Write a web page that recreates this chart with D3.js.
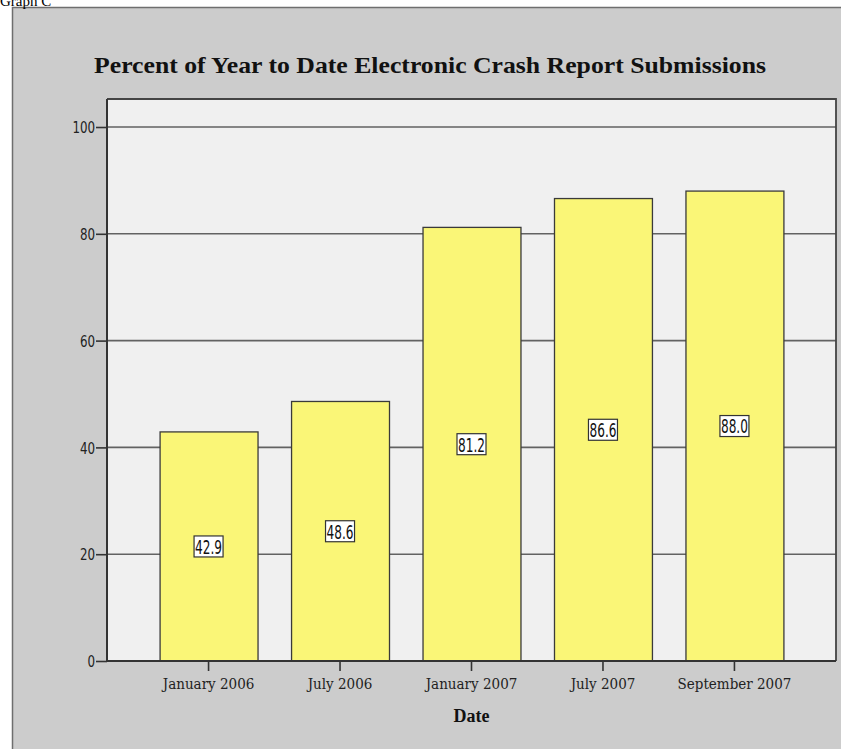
<!DOCTYPE html>
<html>
<head>
<meta charset="utf-8">
<script src="https://cdn.jsdelivr.net/npm/d3@7"></script>
<style>
  html, body { margin: 0; padding: 0; background: #ffffff; }
  svg { display: block; }
</style>
</head>
<body>
<script>
// Chart data
const categories = ["January 2006", "July 2006", "January 2007", "July 2007", "September 2007"];
const percentValues = [42.9, 48.6, 81.2, 86.6, 88.0];
const yTickValues = [0, 20, 40, 60, 80, 100];
const chartTitle = "Percent of Year to Date Electronic Crash Report Submissions";
const xAxisTitle = "Date";
const captionText = "Graph C";

const W = 841, H = 749;
const plot = { left: 107, top: 99, right: 836, bottom: 661 };
const condensedSerif = "'DejaVu Serif Condensed', 'DejaVu Serif', serif";

// Squeeze a text horizontally to a given width
function squeezeTo(sel, width) {
  sel.attr("textLength", width).attr("lengthAdjust", "spacingAndGlyphs");
}
// Squeeze a text horizontally to a fraction of its natural width
function squeeze(sel, factor) {
  sel.each(function () {
    const w = this.getComputedTextLength();
    d3.select(this)
      .attr("textLength", w * factor)
      .attr("lengthAdjust", "spacingAndGlyphs");
  });
}

const svg = d3.select("body").append("svg")
  .attr("width", W).attr("height", H);

// Outer chart panel
svg.append("rect")
  .attr("x", 12.5).attr("y", 7.5)
  .attr("width", W).attr("height", H)
  .attr("fill", "#cccccc")
  .attr("stroke", "#6e6e6e").attr("stroke-width", 1.5);

// Caption above the panel
svg.append("text")
  .attr("x", 0).attr("y", 6)
  .attr("font-family", "Liberation Serif, serif")
  .attr("font-size", 15)
  .attr("fill", "#000")
  .text(captionText);

// Title
svg.append("text")
  .attr("x", 430).attr("y", 73)
  .attr("text-anchor", "middle")
  .attr("font-family", "Liberation Serif, serif")
  .attr("font-weight", "bold")
  .attr("font-size", 23)
  .attr("fill", "#111")
  .text(chartTitle)
  .call(squeezeTo, 672);

// Scales
const x = d3.scaleBand()
  .domain(categories)
  .range([plot.left, plot.right])
  .paddingInner(0.255)
  .paddingOuter(0.40);

const y = d3.scaleLinear()
  .domain([0, 100])
  .range([plot.bottom, 127]);

// Plot background
svg.append("rect")
  .attr("x", plot.left).attr("y", plot.top)
  .attr("width", plot.right - plot.left)
  .attr("height", plot.bottom - plot.top)
  .attr("fill", "#f0f0f0");

// Horizontal gridlines
svg.append("g")
  .selectAll("line")
  .data(yTickValues.filter(d => d > 0))
  .join("line")
  .attr("x1", plot.left).attr("x2", plot.right)
  .attr("y1", d => y(d)).attr("y2", d => y(d))
  .attr("stroke", "#626262").attr("stroke-width", 1.6);

// Bars
const barData = categories.map((c, i) => ({ c, v: percentValues[i] }));
svg.append("g")
  .selectAll("rect")
  .data(barData)
  .join("rect")
  .attr("x", d => x(d.c) + 0.5)
  .attr("y", d => y(d.v))
  .attr("width", x.bandwidth())
  .attr("height", d => y(0) - y(d.v))
  .attr("fill", "#faf677")
  .attr("stroke", "#3a3a3a").attr("stroke-width", 1.3);

// Plot frame (top and right)
svg.append("path")
  .attr("d", `M${plot.left},${plot.top}H${plot.right}V${plot.bottom}`)
  .attr("fill", "none")
  .attr("stroke", "#444").attr("stroke-width", 1.8);

// Y axis
const yAxis = svg.append("g")
  .attr("transform", `translate(${plot.left},0)`)
  .call(d3.axisLeft(y).tickValues(yTickValues).tickSize(11).tickPadding(1).tickSizeOuter(0));
yAxis.select(".domain").remove();
yAxis.append("line")
  .attr("x1", 0).attr("x2", 0)
  .attr("y1", plot.top).attr("y2", plot.bottom)
  .attr("stroke", "#333").attr("stroke-width", 2);
yAxis.selectAll(".tick line").attr("stroke", "#333").attr("stroke-width", 1.6);
yAxis.selectAll(".tick text")
  .attr("font-family", "DejaVu Sans, sans-serif")
  .attr("font-size", 16)
  .attr("fill", "#222")
  .attr("dy", "0.36em")
  .call(squeeze, 0.74);

// X axis
const xAxis = svg.append("g")
  .attr("transform", `translate(0,${plot.bottom})`)
  .call(d3.axisBottom(x).tickSize(10).tickPadding(7).tickSizeOuter(0));
xAxis.select(".domain").remove();
xAxis.append("line")
  .attr("x1", plot.left).attr("x2", plot.right)
  .attr("y1", 0).attr("y2", 0)
  .attr("stroke", "#333").attr("stroke-width", 2);
xAxis.selectAll(".tick line").attr("stroke", "#333").attr("stroke-width", 1.6);
xAxis.selectAll(".tick text")
  .attr("font-family", condensedSerif)
  .attr("font-size", 15)
  .attr("fill", "#222");

// X axis title
svg.append("text")
  .attr("x", x(categories[2]) + x.bandwidth() / 2)
  .attr("y", 722)
  .attr("text-anchor", "middle")
  .attr("font-family", "Liberation Serif, serif")
  .attr("font-weight", "bold")
  .attr("font-size", 18)
  .attr("fill", "#111")
  .text(xAxisTitle);

// Value labels centred in each bar
const labels = svg.append("g")
  .selectAll("g")
  .data(barData)
  .join("g")
  .attr("transform", d => `translate(${x(d.c) + x.bandwidth() / 2},${y(d.v / 2)})`);

labels.append("rect")
  .attr("x", -14.5).attr("y", -10.5)
  .attr("width", 29).attr("height", 21)
  .attr("fill", "#ffffff")
  .attr("stroke", "#333").attr("stroke-width", 1.2);

labels.append("text")
  .attr("text-anchor", "middle")
  .attr("dy", "0.37em")
  .attr("font-family", "DejaVu Sans, sans-serif")
  .attr("font-size", 20)
  .attr("fill", "#111")
  .text(d => d.v.toFixed(1))
  .call(squeezeTo, 27);
</script>
</body>
</html>
